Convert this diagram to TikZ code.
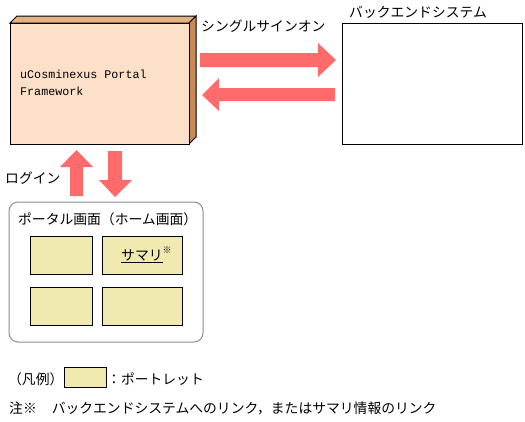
\documentclass[tikz,border=0pt]{standalone}
\usepackage{fontspec}
\newfontfamily\jp{Noto Sans CJK JP}
\newfontfamily\mono{Liberation Mono}
\definecolor{peach}{HTML}{FDE0CA}
\definecolor{tan}{HTML}{E2B284}
\definecolor{brownside}{HTML}{C88A52}
\definecolor{arrowred}{HTML}{FF6B6B}
\definecolor{portlet}{HTML}{F0EAB0}
\definecolor{graybd}{HTML}{8C8C8C}
\tikzset{
  jptext/.style={inner sep=0pt, anchor=west, font=\jp\fontsize{13.8}{16}\selectfont},
  monotext/.style={inner sep=0pt, anchor=west, align=left, font=\mono\fontsize{11.7}{16.5}\selectfont},
  blockarrow/.style={fill=arrowred, draw=none},
  portletbox/.style={draw=black, fill=portlet, line width=1pt},
}
\begin{document}
\begin{tikzpicture}[x=1pt,y=-1pt]
\useasboundingbox (0,0) rectangle (525,421);
% 3D box
\fill[tan, draw=black, line width=1pt] (10,23) -- (17,16) -- (196,16) -- (189,23) -- cycle;
\fill[brownside, draw=black, line width=1pt] (189,23) -- (196,16) -- (196,137) -- (189,144) -- cycle;
\node[draw=black, fill=peach, line width=1pt, minimum width=179pt, minimum height=121pt, anchor=north west, inner sep=0pt] (pf) at (10,23) {};
\node[monotext] (pft) at (20,83) {uCosminexus Portal\\Framework};
% backend
\node[draw=black, fill=white, line width=1pt, minimum width=180pt, minimum height=121pt, anchor=north west, inner sep=0pt] (be) at (342,23) {};
\node[jptext] (bel) at (349,12) {バックエンドシステム};
\node[jptext] (sso) at (201,26) {シングルサインオン};
% horizontal arrows
\fill[blockarrow] (200,53) -- (318,53) -- (318,43) -- (336,60) -- (318,77) -- (318,67) -- (200,67) -- cycle;
\fill[blockarrow] (335,88) -- (219,88) -- (219,78) -- (202,95) -- (219,111) -- (219,101) -- (335,101) -- cycle;
% vertical arrows
\fill[blockarrow] (70,196) -- (70,167) -- (60,167) -- (76.5,150) -- (93,167) -- (83,167) -- (83,196) -- cycle;
\fill[blockarrow] (108,151) -- (122,151) -- (122,180) -- (132,180) -- (115,197) -- (99,180) -- (108,180) -- cycle;
\node[jptext] (login) at (5,178) {ログイン};
% portal
\draw[graybd, line width=1pt, rounded corners=9pt] (9,202) rectangle (203,342);
\node[jptext] (pt) at (18,219) {ポータル画面（ホーム画面）};
\draw[portletbox] (30,236) rectangle (92,274);
\draw[portletbox] (102,236) rectangle (182,274);
\draw[portletbox] (30,287) rectangle (92,325);
\draw[portletbox] (102,287) rectangle (182,325);
\node[jptext] (sm) at (121,255) {\underline{サマリ}\raisebox{0.45em}{\fontsize{9}{9}\selectfont ※}};
% legend
\node[jptext] (hanrei) at (8,379) {（凡例）};
\draw[portletbox] (64,367) rectangle (106,387);
\node[jptext] (lg) at (107,379) {：ポートレット};
\node[jptext] (note) at (9,408) {注※\hspace{15pt}バックエンドシステムへのリンク，またはサマリ情報のリンク};
\end{tikzpicture}
\end{document}
